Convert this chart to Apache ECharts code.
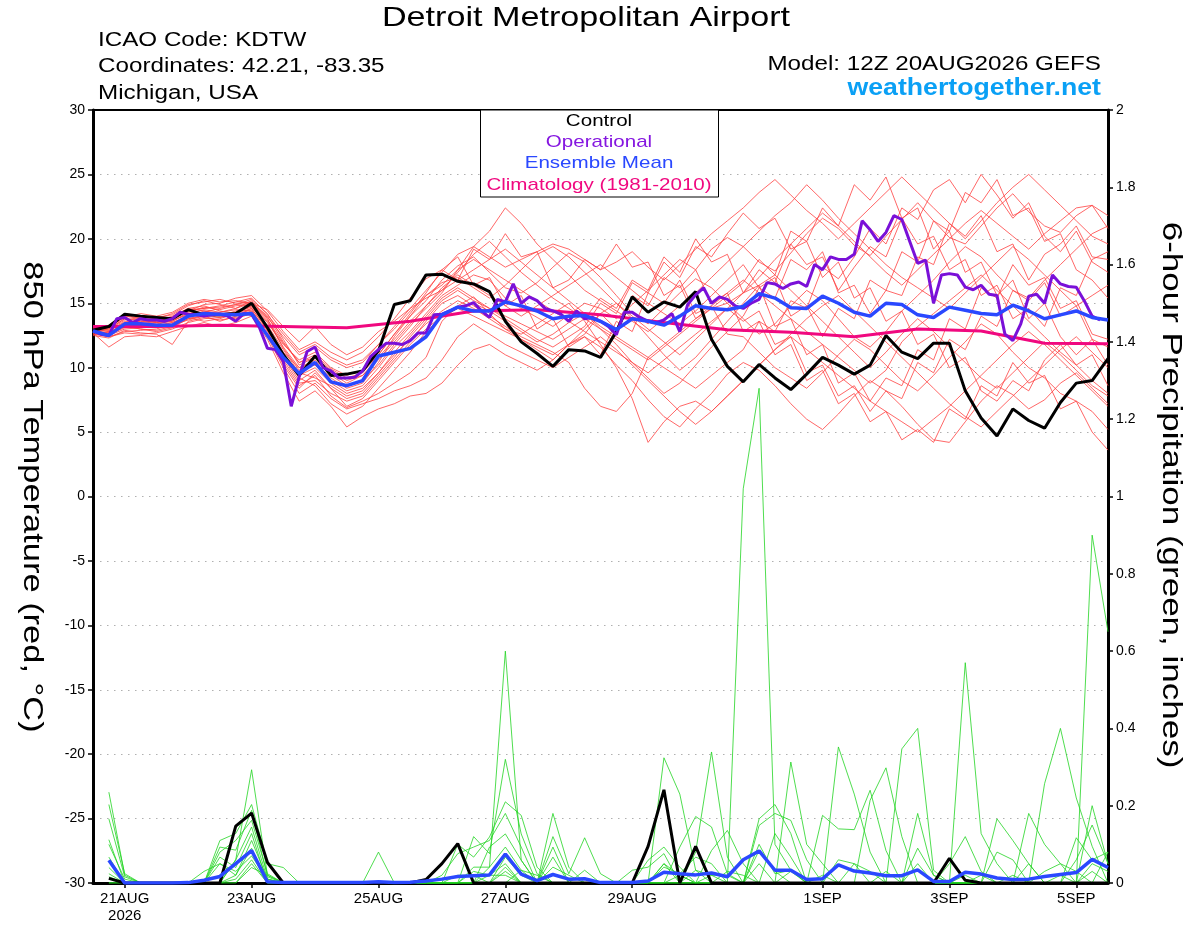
<!DOCTYPE html>
<html><head><meta charset="utf-8">
<script src="https://cdn.jsdelivr.net/npm/echarts@6/dist/echarts.min.js"></script>
<style>html,body{margin:0;padding:0;background:#fff}#c{width:1200px;height:927px}</style>
</head><body><div id="c"></div>
<script>
// ---- axis ticks (forecast hours from 12Z 20AUG2026) ----
const tickHours = [12, 60, 108, 156, 204, 276, 324, 372];
const tickLabels = ['21AUG\n2026', '23AUG', '25AUG', '27AUG', '29AUG', '1SEP', '3SEP', '5SEP'];

// ---- 850 hPa temperature, 6-hourly from hour 0 ----
const controlTemp = [12.9,13.2,14.15,14.0,13.9,13.8,14.5,14.1,14.1,14.2,15.0,
  13.1,11.0,9.4,10.9,9.4,9.5,9.75,11.3,14.9,15.2,
  17.2,17.26,16.7,16.5,15.9,13.6,12.0,11.1,10.1,11.4,
  11.3,10.8,12.8,15.5,14.3,15.1,14.7,15.9,12.2,10.1,
  8.9,10.25,9.2,8.3,9.5,10.8,10.2,9.5,10.2,12.5,
  11.2,10.7,11.9,11.9,8.2,6.1,4.7,6.8,5.9,5.3,
  7.3,8.8,9.0,10.7];
const meanTemp = [12.85,12.5,13.4,13.4,13.3,13.3,14.0,14.2,14.15,14.1,14.2,
  12.5,10.8,9.55,10.4,8.9,8.6,9.0,10.9,11.2,11.5,
  12.4,14.1,14.7,14.4,14.4,15.1,14.8,14.4,13.8,14.0,
  14.05,13.6,12.95,13.8,13.6,13.3,14.0,14.8,14.6,14.5,
  14.75,15.75,15.4,14.65,14.6,15.55,15.0,14.3,14.0,15.0,
  14.9,14.1,13.9,14.7,14.45,14.2,14.1,14.85,14.4,13.8,
  14.1,14.4,13.9,13.7];
// operational run, 3-hourly from hour 0
const operTemp = [12.85,12.6,12.5,13.8,13.9,13.5,13.8,13.7,13.7,13.6,
  13.8,14.3,14.15,14.1,14.0,14.1,14.15,14.0,13.6,14.2,
  14.15,13.1,11.5,11.4,10.5,7.0,9.3,11.25,11.6,10.0,
  9.75,9.2,9.2,9.25,9.75,10.85,11.4,11.9,11.9,11.8,
  12.1,12.7,12.7,14.1,14.15,14.4,14.7,14.8,15.05,14.4,
  13.9,15.3,15.1,16.5,15.0,15.5,15.2,14.6,14.4,14.15,
  13.6,14.4,13.8,13.9,13.6,13.2,12.55,14.3,14.3,13.9,
  13.6,13.5,13.7,14.2,12.8,14.9,15.65,16.2,15.0,15.5,
  15.3,14.8,14.6,15.0,15.3,16.6,16.5,16.15,16.5,16.65,
  16.3,18.0,17.6,18.6,18.4,18.4,18.8,21.4,20.7,19.8,
  20.5,21.8,21.5,19.8,18.1,18.35,15.0,17.2,17.3,17.2,
  16.25,16.05,16.4,15.7,15.6,12.6,12.1,13.4,15.55,15.7,
  15.0,17.2,16.5,16.3,16.25,15.2,14.0,13.7];
// climatology, daily at 12Z from hour 0
const climoTemp = [13.2,13.2,13.3,13.2,13.1,13.6,14.4,14.5,14.1,13.5,12.95,12.75,12.4,13.0,12.85,11.9,11.85];

// ensemble members, 6-hourly from hour 0
const mem01 = [13.0,12.8,13.6,13.5,13.4,13.6,14.2,14.5,14.3,14.6,15.2, 13.8,11.5,9.8,10.2,9.0,8.2,8.6,10.0,11.6,12.8, 14.2,15.6,16.4,17.2,16.8,15.4,14.6,13.9,13.2,14.1, 15.0,14.6,13.8,14.9,16.0,17.2,18.4,17.6,19.2,20.1, 19.4,18.2,17.5,18.9,20.4,21.6,20.8,19.5,18.7,20.2, 21.5,22.8,21.4,20.1,19.6,21.0,22.4,23.5,22.1,21.0, 20.5,21.8,22.6,20.8];
const mem02 = [12.8,12.6,13.2,13.0,12.8,13.1,13.8,14.0,13.6,14.0,14.4, 12.6,10.4,8.6,9.4,7.8,6.9,7.4,8.0,8.8,9.6, 10.8,13.6,14.8,15.5,14.2,13.0,12.2,11.4,10.6,11.8, 12.4,11.6,10.2,9.0,7.5,6.2,5.4,6.8,8.0,9.5, 10.4,9.8,8.6,7.2,6.0,5.2,6.4,7.8,9.0,8.2, 7.0,5.6,4.4,4.2,5.8,7.4,8.6,7.9,6.8,7.5, 8.8,9.6,8.4,7.2];
const mem03 = [12.9,13.1,14.0,13.8,13.7,13.9,14.6,14.8,14.4,14.2,14.8, 13.5,11.8,10.6,11.2,10.0,9.4,9.8,11.0,12.6,14.0, 15.2,16.8,17.9,18.6,17.4,16.2,15.8,16.6,17.8,18.9, 18.2,17.0,15.6,14.2,13.4,14.6,15.8,16.9,16.2,15.0, 13.8,12.6,13.4,14.8,16.0,15.2,13.8,12.4,11.6,12.8, 14.4,15.6,16.8,18.2,19.4,18.6,17.2,16.0,15.4,16.8, 18.0,19.2,20.4,21.0];
const mem04 = [12.6,12.4,12.8,12.9,13.0,13.4,13.9,13.6,13.8,14.2,14.6, 12.9,10.9,9.2,8.6,7.2,6.4,7.0,8.4,9.8,11.2, 12.8,13.9,14.6,15.0,14.4,13.6,12.8,12.0,12.6,13.5, 14.2,13.0,11.8,10.4,9.2,8.0,8.8,10.2,11.6,12.8, 14.0,16.2,15.4,18.4,17.6,19.0,15.8,16.4,14.2,16.0, 15.6,18.6,18.0,21.2,20.2,21.8,19.0,19.6,16.8,18.8, 19.6,21.0,18.6,18.4];
const mem05 = [13.2,12.9,13.5,13.2,13.3,13.8,14.4,14.9,15.0,15.4,15.6, 14.4,12.8,11.4,12.0,11.2,10.6,11.2,12.4,13.8,15.4, 16.9,17.6,18.6,16.4,17.0,14.8,15.6,13.0,13.8,11.6, 12.4,11.0,13.6,12.8,15.8,15.0,16.8,14.2,14.8,12.6, 12.4,11.2,10.0,9.2,8.4,9.6,11.0,12.2,11.4,10.2, 9.0,8.2,9.4,10.8,12.0,13.4,12.6,11.2,10.0,9.2, 8.0,7.4,6.6,5.2];
const mem06 = [12.7,11.6,12.4,12.5,12.4,12.8,13.2,13.5,13.2,13.5,14.0, 12.2,9.6,7.4,8.2,7.0,5.4,6.2,6.8,7.2,7.8, 8.0,8.8,10.2,11.4,11.8,11.0,10.4,9.8,10.6,11.8, 13.0,14.2,15.0,13.8,12.4,11.0,9.8,10.8,12.2,13.6, 15.0,16.4,17.2,16.0,14.8,13.6,12.4,11.2,10.0,11.2, 12.6,13.8,12.8,11.6,10.4,9.2,8.4,9.6,10.8,12.0, 11.0,9.8,8.6,7.8];
const mem07 = [13.0,13.3,14.2,14.0,13.9,14.1,14.8,15.2,14.9,14.6,15.0, 13.9,12.4,11.0,11.6,10.6,10.0,10.4,11.8,13.2,14.6, 16.0,17.4,18.8,19.4,18.6,17.8,18.4,19.0,19.6,19.2, 18.4,17.6,18.2,19.0,17.8,16.8,18.0,19.2,20.4,21.4, 22.4,23.6,24.6,23.4,22.2,21.2,20.0,21.2,22.4,23.6, 24.8,23.6,22.4,21.2,20.0,21.4,22.8,24.0,25.0,23.8, 22.6,21.4,20.2,19.6];
const mem08 = [12.8,12.7,13.4,13.6,13.5,13.7,14.1,14.3,14.6,14.9,15.3, 14.2,12.2,10.2,10.8,9.6,8.8,9.4,10.6,12.0,13.4, 14.6,15.8,17.6,19.4,20.6,22.4,21.2,19.6,18.4,17.2, 16.0,15.2,14.4,13.6,12.8,13.8,14.8,15.8,17.0,18.2, 19.4,20.6,21.8,22.8,24.2,23.0,21.6,20.4,19.2,18.0, 17.0,16.2,15.4,14.6,15.8,17.0,18.2,19.4,18.4,17.2, 16.0,14.8,15.6,16.4];
const mem09 = [12.9,12.6,13.1,13.3,13.2,13.5,14.0,14.2,14.0,14.4,14.8, 13.2,11.0,9.4,10.0,8.8,8.0,8.4,9.6,11.0,12.2, 13.4,14.4,15.2,14.6,13.8,13.0,12.6,13.4,14.2,15.0, 13.6,11.8,10.0,7.6,4.2,5.8,7.0,7.4,6.6,7.8, 9.0,10.2,11.4,12.6,13.8,14.8,15.6,14.4,13.2,12.0, 10.8,9.6,8.4,7.2,6.2,5.4,6.6,7.8,9.0,10.2, 11.4,12.4,11.2,10.0];
const mem10 = [13.1,13.0,13.8,13.6,13.6,14.0,14.6,14.4,14.2,14.0,14.6, 13.0,11.2,10.0,10.6,9.4,8.6,9.0,10.2,11.8,13.2, 14.8,16.2,17.2,16.4,15.6,14.8,14.0,14.8,15.6,16.4, 17.2,18.0,17.0,16.0,15.0,14.2,13.4,14.4,15.6,16.8, 18.0,16.2,17.0,14.0,14.8,12.4,14.6,13.8,16.8,16.0, 19.0,18.2,21.4,20.6,23.6,22.8,24.6,21.8,22.4,19.8, 20.4,17.6,16.8,15.4];
const mem11 = [12.5,12.3,12.9,12.7,12.6,11.8,13.6,13.9,13.7,13.9,14.2, 12.4,10.0,8.0,8.8,7.6,6.8,7.2,7.6,8.2,8.6, 9.2,10.6,12.4,13.4,12.6,11.8,11.2,10.6,10.0,10.8, 11.6,12.4,11.4,10.2,9.0,7.8,6.6,5.6,6.6,7.8, 9.0,10.2,11.4,12.4,11.4,10.4,9.4,8.4,7.4,6.6, 5.8,5.0,6.0,7.0,8.2,9.4,10.6,11.8,12.8,11.8, 10.6,9.4,8.2,7.0];
const mem12 = [13.0,12.9,13.7,13.9,13.8,14.2,14.9,15.1,15.3,15.0,15.1, 14.0,12.0,10.4,11.0,9.9,9.2,9.6,11.0,12.6,14.2, 15.8,17.6,16.8,19.2,18.4,20.4,18.6,19.0,16.2,16.8, 18.4,17.6,19.6,17.8,18.2,15.6,16.4,13.8,14.6,15.0, 15.8,17.0,18.4,19.6,20.8,22.0,21.0,19.8,18.6,17.4, 16.4,17.6,18.8,20.0,21.2,22.2,21.2,20.2,19.2,20.4, 21.4,22.4,22.6,21.8];
const mem13 = [12.7,12.5,13.0,13.1,13.2,13.3,13.7,14.0,14.3,14.5,14.4, 12.8,10.6,8.8,9.0,8.0,7.4,7.8,9.2,10.6,12.0, 13.6,15.0,15.6,14.8,14.0,13.2,12.4,11.8,11.2,10.4, 8.4,7.0,6.6,8.0,10.8,11.8,12.8,13.8,14.8,15.8, 16.8,15.8,14.8,13.8,12.8,11.8,10.8,9.8,8.8,9.8, 12.0,13.2,14.2,15.2,16.2,17.2,16.0,14.8,13.6,12.4, 11.2,10.2,9.0,8.0];
const mem14 = [13.1,13.2,14.1,13.8,13.5,13.6,14.3,14.7,14.5,14.8,14.9, 13.6,11.6,10.0,10.4,9.2,8.4,8.8,10.4,12.4,14.0, 15.6,16.6,17.0,16.2,15.4,16.4,17.6,18.8,19.4,18.6, 17.4,16.2,15.0,14.0,13.0,12.0,11.0,12.2,13.4,14.6, 15.8,17.6,16.6,19.6,18.0,18.6,16.0,17.8,19.4,18.6, 21.6,19.6,20.2,17.6,18.4,15.6,16.4,13.8,14.6,13.2, 16.2,15.6,18.4,19.0];
const mem15 = [12.8,12.4,12.7,12.6,12.7,13.0,13.5,13.8,13.9,14.1,14.5, 12.6,10.2,8.4,9.6,8.4,7.6,8.0,9.4,10.8,12.4, 13.8,15.2,16.0,15.2,14.6,14.0,13.4,12.8,12.2,13.0, 13.8,15.4,14.6,16.8,16.0,18.6,17.4,20.0,18.2,18.8, 15.8,16.4,13.2,13.8,11.0,11.8,8.8,9.6,7.4,9.2, 8.6,11.4,10.6,13.8,13.0,16.2,15.4,18.0,16.4,17.0, 14.6,15.2,12.6,12.2];
const mem16 = [13.0,12.8,13.3,13.4,13.6,13.9,14.5,14.6,14.8,15.1,15.4, 14.1,12.6,11.2,11.8,10.8,10.2,10.6,11.8,13.0,14.4, 15.6,16.4,17.6,18.4,17.6,16.8,16.0,15.2,14.4,13.6, 12.8,12.0,11.2,10.4,9.6,10.6,11.6,12.6,13.6,14.6, 13.6,14.4,11.8,12.4,9.6,10.2,7.8,8.6,6.6,8.2, 7.6,10.4,9.6,12.2,11.4,14.0,13.2,16.0,15.2,16.6, 14.0,14.8,12.2,11.6];
const mem17 = [12.6,12.5,13.2,13.0,12.9,13.2,13.8,14.1,13.9,14.3,14.7, 13.3,11.4,9.6,9.2,8.6,7.8,8.2,9.6,11.2,12.6, 14.0,15.4,16.2,15.4,14.6,13.8,13.0,12.2,11.6,12.4, 13.2,15.0,14.2,16.6,15.8,18.2,17.0,19.4,18.6,20.4, 22.0,20.8,21.6,19.2,19.8,17.0,18.2,15.4,16.2,13.6, 14.4,11.8,12.6,10.0,10.8,8.2,7.4,9.0,8.2,10.6, 11.8,10.2,11.0,8.6];
const mem18 = [13.2,13.1,13.9,14.2,14.0,14.3,15.0,15.3,15.1,15.2,15.0, 14.5,13.2,12.0,13.2,11.8,11.0,11.6,12.8,13.6,14.6, 15.4,16.0,16.8,17.6,18.4,19.2,18.2,17.2,16.2,15.2, 14.2,13.2,12.4,11.6,10.8,10.0,9.2,8.4,9.4,10.4, 11.4,13.6,12.8,15.2,14.6,17.8,16.9,18.6,20.8,19.6, 22.4,21.5,23.8,24.6,22.8,25.0,23.4,21.6,22.8,20.2, 19.0,20.6,18.2,17.4];
const mem19 = [12.9,12.7,13.4,13.2,13.3,13.5,14.0,14.4,14.1,13.8,14.2, 12.5,10.8,9.0,9.8,8.4,7.0,7.6,9.0,10.4,11.8, 13.0,14.0,14.6,14.0,13.4,12.8,12.2,11.6,11.0,11.8, 12.6,14.2,13.0,15.6,14.8,17.0,16.2,17.6,15.0,15.8, 12.8,13.6,11.0,11.8,9.0,9.8,7.2,8.0,5.8,6.6, 4.4,5.2,4.2,6.8,6.0,8.6,7.8,10.4,8.8,9.4, 6.8,7.4,5.0,3.6];
const mem20 = [12.8,13.0,13.8,13.7,13.5,13.8,14.4,14.6,14.7,14.9,15.0, 13.7,11.9,10.4,10.8,9.8,9.0,9.4,10.8,12.2,13.6, 14.8,16.0,17.4,18.8,19.8,18.6,17.4,16.4,15.4,14.6, 13.8,13.0,12.2,11.4,10.6,11.6,12.6,13.6,14.6,15.6, 16.6,18.4,17.2,20.6,19.8,22.4,21.0,24.2,23.0,24.8, 21.6,22.4,19.2,20.6,17.4,18.2,15.6,16.8,13.8,15.0, 12.4,11.0,12.2,10.2];

// ---- 6-hour precipitation (inches), periods ending hour 6 ... 384 ----
const controlPrecip = [0.012,0,0,0,0,0,0,0, 0.147,0.181,0.053,0,0,0,0,0, 0,0,0,0,0.009,0.05,0.102,0, 0,0,0,0,0,0,0,0, 0,0,0.095,0.241,0,0.095,0,0, 0,0,0,0,0,0,0,0, 0,0,0,0,0,0.064,0.007,0, 0,0,0,0,0,0,0,0];
const meanPrecip = [0.059,0,0,0,0,0.001,0.007,0.017, 0.05,0.084,0.003,0.001,0.001,0.001,0.001,0.001, 0.001,0.003,0.001,0.002,0.005,0.01,0.017,0.019, 0.021,0.075,0.023,0.006,0.022,0.01,0.011,0.001, 0.001,0.001,0.005,0.028,0.024,0.021,0.026,0.016, 0.06,0.083,0.033,0.033,0.009,0.011,0.047,0.031, 0.026,0.019,0.019,0.034,0.004,0.004,0.028,0.023, 0.013,0.009,0.01,0.017,0.022,0.027,0.061,0.04];
const pmem01 = [0.235,0.02,0,0,0,0,0,0, 0.06,0.293,0.02,0,0,0,0,0, 0,0,0,0,0,0,0,0, 0.041,0.6,0.059,0,0,0,0,0, 0,0,0,0.05,0.02,0,0,0, 1.02,1.28,0.1,0.033,0,0,0,0, 0,0,0,0.09,0.02,0,0,0, 0,0,0,0,0,0,0.2,0.05];
const pmem02 = [0.203,0.024,0,0,0,0,0,0.11, 0.128,0.203,0.05,0.04,0,0,0,0, 0,0,0,0,0,0,0,0.12, 0.076,0.32,0.127,0.024,0,0,0,0, 0,0,0,0,0,0.08,0.339,0.067, 0,0,0,0.313,0.1,0.05,0,0, 0,0,0,0,0,0,0.57,0.128, 0.05,0,0,0,0,0,0,0];
const pmem03 = [0.166,0.016,0,0,0,0,0,0.093, 0.085,0.188,0.016,0,0,0,0,0, 0,0,0,0,0,0,0.1,0.067, 0.119,0.21,0.175,0.041,0,0,0,0, 0,0,0,0.324,0.23,0.033,0,0, 0,0,0,0,0,0,0.352,0.23, 0.08,0,0,0,0,0,0,0, 0,0,0,0,0,0,0.9,0.65];
const pmem04 = [0.112,0,0,0,0,0,0,0.08, 0.11,0.162,0.024,0,0,0,0,0, 0,0,0,0,0,0.02,0.076,0.093, 0.11,0.18,0.093,0,0.18,0.041,0,0, 0,0,0,0,0.093,0.172,0.145,0.024, 0,0.166,0.203,0.128,0,0,0,0, 0.214,0.298,0.12,0,0,0,0,0, 0,0,0,0.257,0.4,0.22,0.095,0];
const pmem05 = [0.1,0.01,0,0,0,0,0,0, 0.06,0.145,0.01,0,0,0,0,0, 0,0.08,0,0,0,0,0,0, 0.093,0.127,0.059,0,0.12,0.024,0.117,0.024, 0,0,0.059,0.093,0.041,0,0,0, 0,0.149,0.18,0.162,0.06,0,0,0, 0,0,0.347,0.4,0.033,0,0,0, 0,0,0.18,0.1,0.05,0,0,0];
const pmem06 = [0.067,0,0,0,0,0,0,0.067, 0.04,0.128,0,0,0,0,0,0, 0,0,0,0,0,0,0,0.041, 0.041,0.093,0.033,0,0.093,0,0,0, 0,0.033,0.041,0.076,0,0,0.084,0.136, 0.05,0,0,0,0,0.175,0.14,0.138, 0.24,0.084,0,0,0,0,0,0, 0.166,0.11,0.05,0,0,0.117,0.06,0.08];
const pmem07 = [0.024,0,0,0,0,0,0,0.05, 0.02,0.11,0.01,0,0,0,0,0, 0,0,0,0,0,0,0,0, 0,0.067,0.02,0,0.067,0,0.033,0, 0,0,0,0.041,0.024,0.067,0.05,0, 0,0,0.128,0.067,0,0,0.06,0.05, 0,0,0,0.18,0.02,0,0,0, 0.08,0.06,0,0,0,0.06,0.15,0.05];
const pmem08 = [0.016,0,0,0,0,0,0,0, 0.02,0.09,0,0,0,0,0,0, 0,0,0,0,0,0,0,0, 0,0.041,0,0,0.041,0.02,0,0, 0,0,0,0.05,0,0,0.02,0.02, 0,0.1,0.024,0.033,0,0,0,0, 0,0,0,0,0,0.05,0.12,0.03, 0,0,0.05,0,0,0,0,0.08];
const pmem09 = [0,0,0,0,0,0,0.03,0.05, 0.03,0.07,0.01,0,0,0,0,0, 0,0,0,0,0,0,0,0.03, 0.02,0.05,0,0,0,0,0,0, 0,0,0,0,0.02,0,0,0, 0,0.084,0.03,0,0,0,0,0.05, 0.03,0,0,0,0,0,0,0, 0,0,0,0.03,0.05,0.03,0,0];
const pmem10 = [0,0,0,0,0,0,0,0, 0,0.04,0.02,0,0,0,0,0, 0,0,0,0,0,0,0.02,0.02, 0,0,0.033,0.02,0,0,0,0, 0,0,0,0,0,0.033,0.02,0, 0,0.05,0,0,0,0,0,0, 0,0.03,0,0.05,0,0,0,0, 0,0.02,0,0,0,0,0.05,0.03];
const pmem11 = [0.04,0,0,0,0,0,0,0, 0,0.05,0,0,0,0,0,0, 0,0,0,0,0,0,0,0, 0.02,0.02,0,0,0,0,0,0, 0,0,0,0,0,0,0,0, 0,0,0,0.03,0,0,0,0, 0,0,0,0,0,0,0.02,0, 0,0,0,0,0,0,0.03,0];
const pmem12 = [0,0,0,0,0,0,0,0, 0.01,0.06,0,0,0,0,0,0, 0,0,0,0,0,0,0,0, 0,0.03,0,0,0,0,0,0, 0,0,0,0,0,0,0,0.03, 0.02,0,0,0,0,0.02,0,0, 0,0,0,0,0,0,0,0.02, 0,0,0,0,0.02,0,0,0];

const tempMembers = [mem01,mem02,mem03,mem04,mem05,mem06,mem07,mem08,mem09,mem10,mem11,mem12,mem13,mem14,mem15,mem16,mem17,mem18,mem19,mem20];
const precipMembers = [pmem01,pmem02,pmem03,pmem04,pmem05,pmem06,pmem07,pmem08,pmem09,pmem10,pmem11,pmem12];

// ---- build ----
const FONT = '"Liberation Sans", Arial, Helvetica, sans-serif';
const t6 = a => a.map((v, i) => [6 * i, v]);
const p6 = a => a.map((v, i) => [6 * (i + 1), v]);
const t3 = a => a.map((v, i) => [3 * i, v]);
const t24 = a => a.map((v, i) => [24 * i, v]);

const base = {type: 'line', symbol: 'none', silent: true, animation: false, clip: true};
const series = [];
tempMembers.forEach(m => series.push(Object.assign({}, base, {
  data: t6(m), yAxisIndex: 0, lineStyle: {color: '#ff4040', width: 0.8}
})));
precipMembers.forEach(m => series.push(Object.assign({}, base, {
  data: p6(m), yAxisIndex: 1, lineStyle: {color: '#22d422', width: 0.8}
})));
series.push(Object.assign({}, base, {data: t24(climoTemp), yAxisIndex: 0, lineStyle: {color: '#f0087f', width: 3}}));
series.push(Object.assign({}, base, {data: t6(controlTemp), yAxisIndex: 0, lineStyle: {color: '#000', width: 3}}));
series.push(Object.assign({}, base, {data: t3(operTemp), yAxisIndex: 0, lineStyle: {color: '#7a10d8', width: 3}}));
series.push(Object.assign({}, base, {data: t6(meanTemp), yAxisIndex: 0, lineStyle: {color: '#2a48ff', width: 3.5}}));
series.push(Object.assign({}, base, {data: p6(controlPrecip), yAxisIndex: 1, lineStyle: {color: '#000', width: 3}}));
series.push(Object.assign({}, base, {data: p6(meanPrecip), yAxisIndex: 1, lineStyle: {color: '#2a48ff', width: 3.5}}));

function label(text, x, y, opts) {
  const o = opts || {};
  return {type: 'text', x: x, y: y, scaleX: o.sx || 1.21, rotation: o.rot || 0, z: o.z || 100,
    style: {text: text, fill: o.fill || '#000', font: o.font || ('20px ' + FONT),
      textAlign: o.align || 'left', textVerticalAlign: 'middle'}};
}

const chart = echarts.init(document.getElementById('c'));
chart.setOption({
  animation: false,
  backgroundColor: '#fff',
  textStyle: {fontFamily: FONT},
  grid: {left: 93, right: 92, top: 110, bottom: 44, show: true, borderColor: '#000', borderWidth: 2, backgroundColor: 'transparent'},
  xAxis: {
    type: 'value', min: 0, max: 384,
    axisLine: {show: true, onZero: false, lineStyle: {color: '#000', width: 3}},
    axisTick: {show: true, customValues: tickHours, length: 5, lineStyle: {color: '#000', width: 1.5}},
    axisLabel: {customValues: tickHours, formatter: v => { const k = tickHours.indexOf(v); return k >= 0 ? tickLabels[k] : ''; },
      color: '#000', fontSize: 15, fontFamily: FONT, margin: 7, lineHeight: 17},
    splitLine: {show: false}
  },
  yAxis: [{
    type: 'value', min: -30, max: 30, interval: 5, position: 'left',
    axisLine: {show: true, lineStyle: {color: '#000', width: 3}},
    axisTick: {show: true, length: 5, lineStyle: {color: '#000', width: 1.5}},
    axisLabel: {color: '#000', fontSize: 14, fontFamily: FONT, margin: 8},
    splitLine: {show: true, showMinLine: false, showMaxLine: false, lineStyle: {color: '#b0b0b0', width: 1.2, type: [1.5, 5.5]}}
  }, {
    type: 'value', min: 0, max: 2, interval: 0.2, position: 'right',
    axisLine: {show: true, lineStyle: {color: '#000', width: 3}},
    axisTick: {show: true, length: 5, lineStyle: {color: '#000', width: 1.5}},
    axisLabel: {color: '#000', fontSize: 14, fontFamily: FONT, margin: 8, formatter: v => String(+v.toFixed(1))},
    splitLine: {show: false}
  }],
  series: series,
  graphic: [
    label('Detroit Metropolitan Airport', 586, 18, {font: '28px ' + FONT, align: 'center', sx: 1.22}),
    label('ICAO Code: KDTW', 98, 40),
    label('Coordinates: 42.21, -83.35', 98, 66),
    label('Michigan, USA', 98, 93),
    label('Model: 12Z 20AUG2026 GEFS', 1101, 64, {align: 'right'}),
    label('weathertogether.net', 1101, 89, {align: 'right', fill: '#0aa0f5', font: 'bold 23px ' + FONT, sx: 1.16}),
    label('850 hPa Temperature (red, °C)', 32, 497, {font: '28px ' + FONT, align: 'center', sx: 1.23, rot: -Math.PI / 2}),
    label('6-hour Precipitation (green, inches)', 1171, 495, {font: '28px ' + FONT, align: 'center', sx: 1.25, rot: -Math.PI / 2}),
    {type: 'rect', shape: {x: 480.5, y: 110, width: 238, height: 87}, style: {fill: '#fff', stroke: '#000', lineWidth: 1}, z: 100},
    label('Control', 599, 121, {font: '17px ' + FONT, align: 'center', z: 101}),
    label('Operational', 599, 142, {font: '17px ' + FONT, align: 'center', fill: '#8516e0', z: 101}),
    label('Ensemble Mean', 599, 163, {font: '17px ' + FONT, align: 'center', fill: '#2a48ff', z: 101}),
    label('Climatology (1981-2010)', 599, 185, {font: '17px ' + FONT, align: 'center', fill: '#f0087f', z: 101})
  ]
});
</script>
</body></html>
